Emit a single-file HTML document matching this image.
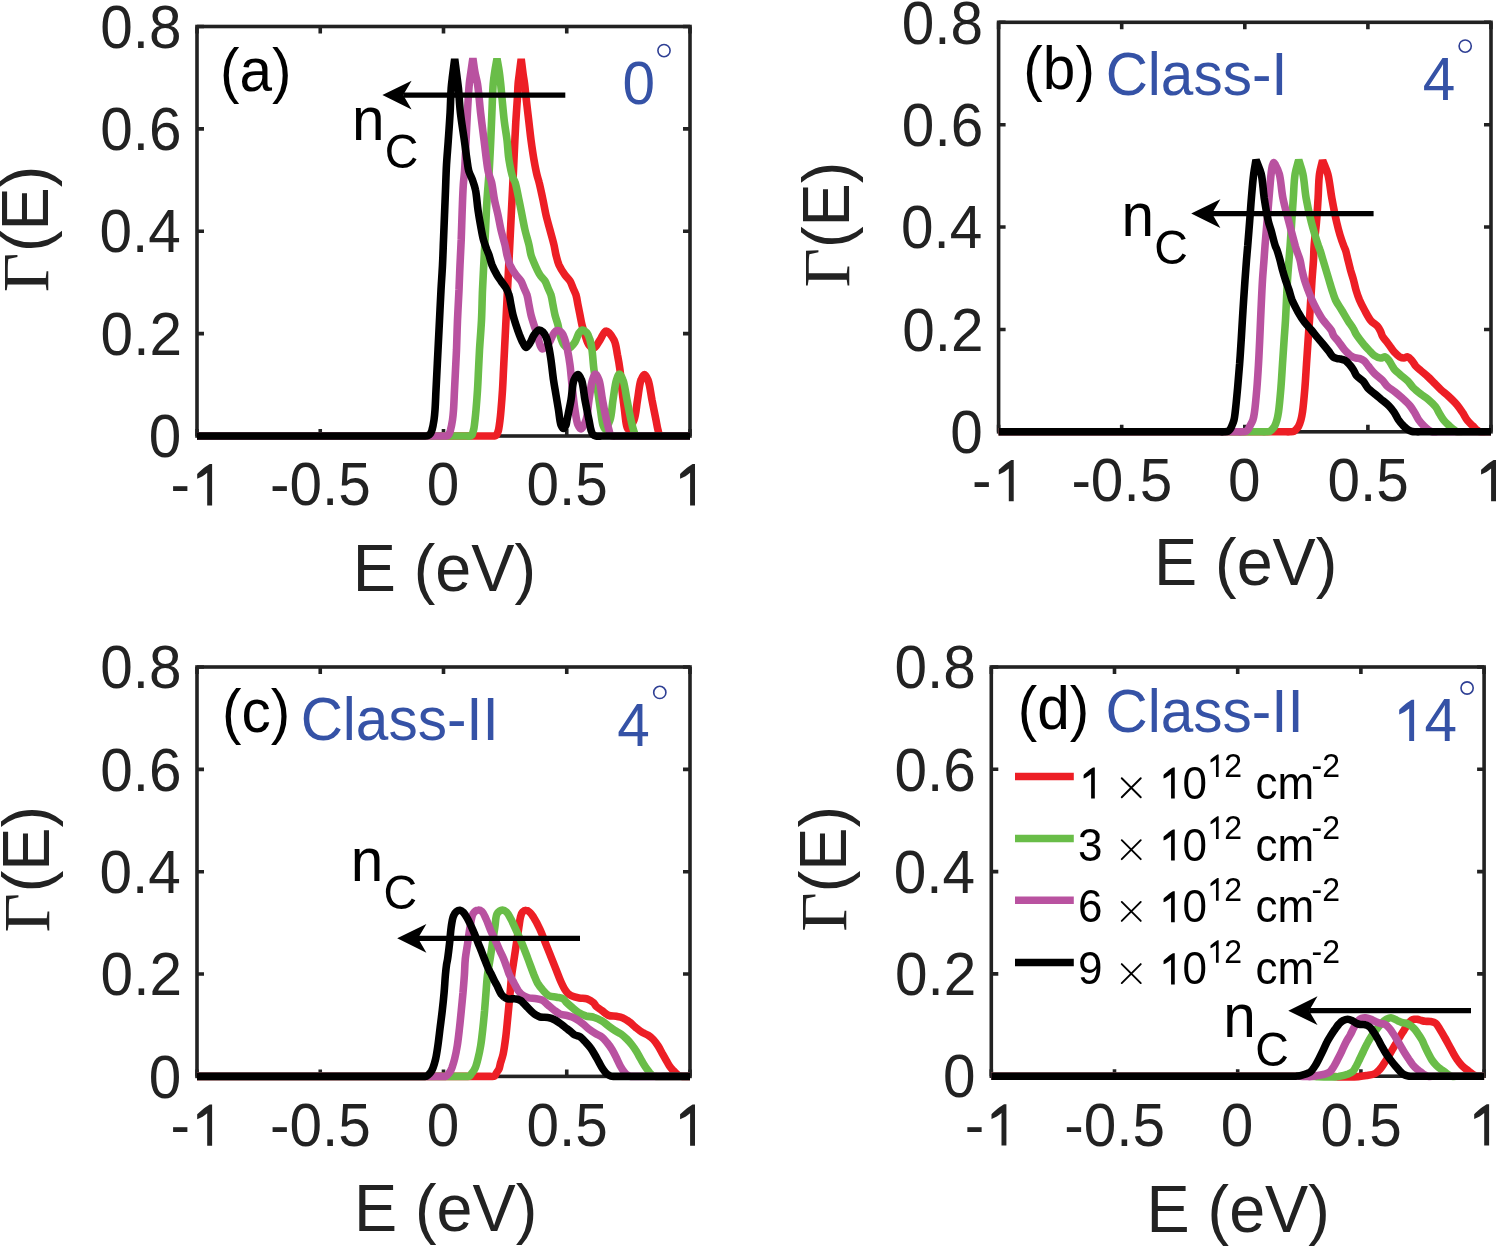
<!DOCTYPE html><html><head><meta charset="utf-8"><style>html,body{margin:0;padding:0;background:#fff;width:1500px;height:1248px;overflow:hidden}svg{display:block;will-change:transform}text{font-kerning:none}</style></head><body>
<svg width="1500" height="1248" viewBox="0 0 1500 1248">
<rect width="1500" height="1248" fill="#fff"/>
<path d="M197.00,436.00V429.00M197.00,26.50V33.50M320.25,436.00V429.00M320.25,26.50V33.50M443.50,436.00V429.00M443.50,26.50V33.50M566.75,436.00V429.00M566.75,26.50V33.50M690.00,436.00V429.00M690.00,26.50V33.50M197.00,436.00H204.00M690.00,436.00H683.00M197.00,333.62H204.00M690.00,333.62H683.00M197.00,231.25H204.00M690.00,231.25H683.00M197.00,128.88H204.00M690.00,128.88H683.00M197.00,26.50H204.00M690.00,26.50H683.00" stroke="#222222" stroke-width="3.6" fill="none"/>
<rect x="197.0" y="26.5" width="493.00" height="409.50" stroke="#222222" stroke-width="3.6" fill="none"/>
<text transform="translate(148.75,457.20) scale(1.0,1.03)" font-family='"Liberation Sans", sans-serif' font-size="58.5" fill="#222222" >0</text>
<text transform="translate(100.62,354.82) scale(1.0,1.03)" font-family='"Liberation Sans", sans-serif' font-size="58.5" fill="#222222" >0.2</text>
<text transform="translate(99.39,252.45) scale(1.0,1.03)" font-family='"Liberation Sans", sans-serif' font-size="58.5" fill="#222222" >0.4</text>
<text transform="translate(100.25,150.08) scale(1.0,1.03)" font-family='"Liberation Sans", sans-serif' font-size="58.5" fill="#222222" >0.6</text>
<text transform="translate(100.22,47.70) scale(1.0,1.03)" font-family='"Liberation Sans", sans-serif' font-size="58.5" fill="#222222" >0.8</text>
<text transform="translate(170.39,505.40) scale(1.0,1.03)" font-family='"Liberation Sans", sans-serif' font-size="58.5" fill="#222222" >-</text>
<path transform="translate(189.88,505.40) scale(0.05850,-0.06026)" d="M296 0L380 0L380 685L340 685C290 660 190 582 125 522L125 442C190 466 250 500 296 542Z" fill="#222222"/>
<text transform="translate(269.93,505.40) scale(1.0,1.03)" font-family='"Liberation Sans", sans-serif' font-size="58.5" fill="#222222" >-0.5</text>
<text transform="translate(426.63,505.40) scale(1.0,1.03)" font-family='"Liberation Sans", sans-serif' font-size="58.5" fill="#222222" >0</text>
<text transform="translate(526.42,505.40) scale(1.0,1.03)" font-family='"Liberation Sans", sans-serif' font-size="58.5" fill="#222222" >0.5</text>
<path transform="translate(672.78,505.40) scale(0.05850,-0.06026)" d="M296 0L380 0L380 685L340 685C290 660 190 582 125 522L125 442C190 466 250 500 296 542Z" fill="#222222"/>
<text transform="translate(352.67,591.30) scale(1.0,1.04)" font-family='"Liberation Sans", sans-serif' font-size="64.7" fill="#222222" >E (eV)</text>
<text transform="translate(48.40,292.27) rotate(-90) scale(1,0.972)" font-family='"Liberation Serif", serif' font-size="68.5" fill="#222222">Γ</text>
<text transform="translate(48.40,252.01) rotate(-90) scale(1,1.04)" font-family='"Liberation Sans", sans-serif' font-size="64.7" fill="#222222">(E)</text>
<path d="M197.00,436.00 C198.67,436.00 199.06,436.00 202.00,436.00 C224.00,436.00 458.16,436.00 482.00,436.00 C485.49,436.00 486.00,436.00 488.00,436.00 C490.00,436.00 492.54,436.18 494.00,436.00 C494.85,435.89 495.45,435.91 496.00,435.50 C496.66,435.01 497.09,433.90 497.50,433.00 C497.93,432.07 498.19,431.31 498.50,430.00 C499.06,427.66 499.58,423.34 500.00,420.00 C500.42,416.67 500.66,413.91 501.00,410.00 C501.48,404.48 502.08,396.67 502.50,390.00 C502.92,383.34 503.17,376.67 503.50,370.00 C503.83,363.33 504.13,357.34 504.50,350.00 C504.95,341.01 505.50,330.00 506.00,320.00 C506.50,310.00 507.00,300.00 507.50,290.00 C508.00,280.00 508.50,270.00 509.00,260.00 C509.50,250.00 510.00,240.00 510.50,230.00 C511.00,220.00 511.50,210.00 512.00,200.00 C512.50,190.00 513.05,179.44 513.50,170.00 C513.90,161.55 514.22,154.00 514.60,146.00 C514.98,138.00 515.33,130.00 515.80,122.00 C516.27,114.00 517.00,104.93 517.40,98.00 C517.71,92.71 517.74,88.27 518.10,84.00 C518.41,80.38 518.85,77.67 519.30,74.00 C519.86,69.48 520.57,63.93 521.20,58.90 C521.83,63.93 522.48,69.49 523.10,74.00 C523.61,77.68 524.13,80.38 524.60,84.00 C525.15,88.27 525.51,92.71 526.10,98.00 C526.88,104.93 528.03,114.57 528.90,122.00 C529.65,128.43 530.18,133.85 531.00,140.00 C531.87,146.50 532.92,153.82 534.00,160.00 C534.94,165.37 536.02,170.96 537.00,175.00 C537.68,177.79 538.27,179.11 539.00,182.00 C540.17,186.60 541.79,194.27 543.00,200.00 C544.10,205.22 544.84,210.02 546.00,215.00 C547.17,220.02 548.67,225.00 550.00,230.00 C551.33,235.00 552.95,240.49 554.00,245.00 C554.85,248.66 555.17,251.69 556.00,255.00 C556.84,258.35 557.57,261.75 559.00,265.00 C560.52,268.43 562.98,272.16 565.00,275.00 C566.65,277.33 568.66,278.82 570.00,281.00 C571.32,283.16 572.00,285.67 573.00,288.00 C574.00,290.33 575.20,292.41 576.00,295.00 C576.93,297.99 577.33,301.67 578.00,305.00 C578.67,308.33 579.33,311.67 580.00,315.00 C580.67,318.33 581.17,321.69 582.00,325.00 C582.84,328.35 583.84,331.69 585.00,335.00 C586.17,338.36 587.13,342.80 589.00,345.00 C590.38,346.62 592.39,348.31 594.00,348.00 C596.10,347.59 598.04,342.77 600.00,340.00 C602.04,337.12 603.74,331.16 606.00,331.00 C608.38,330.83 612.10,336.33 614.00,340.00 C616.15,344.15 616.50,349.98 617.50,355.00 C618.50,359.98 619.28,364.63 620.00,370.00 C620.82,376.18 621.25,383.34 622.00,390.00 C622.75,396.67 623.70,403.81 624.50,410.00 C625.19,415.36 625.65,421.63 626.50,425.00 C626.95,426.79 627.21,428.91 628.00,429.00 C629.26,429.15 632.48,423.79 634.00,420.00 C636.08,414.81 636.33,406.67 637.50,400.00 C638.67,393.33 639.26,384.48 641.00,380.00 C641.98,377.46 643.33,374.50 644.50,374.50 C645.67,374.50 646.98,377.47 648.00,380.00 C649.80,384.48 650.67,393.33 652.00,400.00 C653.33,406.67 654.90,414.48 656.00,420.00 C656.78,423.91 657.21,427.19 658.00,430.00 C658.60,432.13 658.69,434.50 660.00,435.50 C661.33,436.52 664.00,435.92 666.00,436.00 C668.00,436.08 669.62,436.00 672.00,436.00 C675.51,436.00 681.68,436.00 685.00,436.00 C687.06,436.00 688.33,436.00 690.00,436.00" stroke="#ED1E25" stroke-width="7.6" fill="none" stroke-linejoin="bevel" stroke-linecap="butt"/>
<path d="M197.00,436.00 C198.67,436.00 199.08,436.00 202.00,436.00 C222.93,436.00 435.34,436.00 458.00,436.00 C461.47,436.00 462.00,436.00 464.00,436.00 C466.00,436.00 468.56,436.34 470.00,436.00 C470.88,435.79 471.51,435.57 472.00,435.00 C472.58,434.33 472.69,433.08 473.00,432.00 C473.36,430.77 473.71,429.57 474.00,428.00 C474.41,425.80 474.68,422.82 475.00,420.00 C475.35,416.85 475.66,413.91 476.00,410.00 C476.48,404.48 477.08,396.67 477.50,390.00 C477.92,383.34 478.17,376.67 478.50,370.00 C478.83,363.33 479.07,357.34 479.50,350.00 C480.02,341.01 481.00,330.00 481.50,320.00 C482.00,310.00 482.08,300.00 482.50,290.00 C482.92,280.00 483.50,270.00 484.00,260.00 C484.50,250.00 485.00,240.00 485.50,230.00 C486.00,220.00 486.38,209.96 487.00,200.00 C487.62,190.10 488.58,180.21 489.20,170.40 C489.81,160.71 490.25,151.13 490.70,141.50 C491.15,131.89 491.48,122.31 491.90,112.70 C492.32,103.07 492.56,91.30 493.20,83.80 C493.61,78.99 494.09,76.04 494.70,72.00 C495.35,67.69 496.23,63.13 497.00,58.70 C497.77,63.13 498.67,67.67 499.30,72.00 C499.89,76.09 500.26,79.84 500.70,84.00 C501.17,88.48 501.49,92.71 502.00,98.00 C502.67,104.93 503.49,114.58 504.40,122.00 C505.19,128.44 506.25,133.83 507.00,140.00 C507.79,146.48 507.96,153.54 509.00,160.00 C509.99,166.19 511.65,174.21 513.00,178.00 C513.66,179.87 514.34,180.13 515.00,182.00 C516.35,185.79 517.79,194.27 519.00,200.00 C520.10,205.22 521.00,210.00 522.00,215.00 C523.00,220.00 523.84,225.02 525.00,230.00 C526.17,235.02 527.95,240.49 529.00,245.00 C529.85,248.66 530.02,251.71 531.00,255.00 C532.00,258.38 533.52,261.70 535.00,265.00 C536.51,268.37 538.15,272.18 540.00,275.00 C541.54,277.36 543.66,278.82 545.00,281.00 C546.32,283.16 547.00,285.67 548.00,288.00 C549.00,290.33 550.20,292.41 551.00,295.00 C551.93,297.99 552.33,301.67 553.00,305.00 C553.67,308.33 554.17,311.69 555.00,315.00 C555.84,318.35 557.16,321.65 558.00,325.00 C558.83,328.31 559.02,331.71 560.00,335.00 C561.00,338.38 562.13,342.80 564.00,345.00 C565.38,346.62 567.34,348.20 569.00,348.00 C571.01,347.75 573.37,344.38 575.00,342.00 C576.76,339.44 577.55,335.11 579.00,333.00 C579.95,331.62 580.81,330.15 582.00,330.00 C583.40,329.83 585.70,331.51 587.00,333.00 C588.48,334.70 589.20,337.41 590.00,340.00 C590.93,342.99 591.41,346.08 592.00,350.00 C592.82,355.51 593.09,363.35 594.00,370.00 C594.92,376.68 596.42,383.33 597.50,390.00 C598.58,396.66 599.52,403.82 600.50,410.00 C601.35,415.36 601.91,421.65 603.00,425.00 C603.59,426.82 604.16,428.98 605.00,429.00 C606.27,429.03 608.73,423.73 610.00,420.00 C611.78,414.77 611.92,406.66 613.00,400.00 C614.08,393.33 614.97,384.64 616.50,380.00 C617.38,377.33 618.43,374.03 619.50,374.00 C620.59,373.96 621.98,377.30 623.00,380.00 C624.75,384.62 625.67,393.33 627.00,400.00 C628.33,406.67 629.76,414.49 631.00,420.00 C631.88,423.92 632.52,427.20 633.50,430.00 C634.25,432.14 634.58,434.50 636.00,435.50 C637.42,436.50 640.00,435.92 642.00,436.00 C644.00,436.08 645.15,436.00 648.00,436.00 C655.08,436.00 678.37,436.00 685.00,436.00 C687.44,436.00 688.33,436.00 690.00,436.00" stroke="#69BD48" stroke-width="7.6" fill="none" stroke-linejoin="bevel" stroke-linecap="butt"/>
<path d="M197.00,436.00 C198.67,436.00 199.09,436.00 202.00,436.00 C221.80,436.00 412.57,436.00 434.00,436.00 C437.45,436.00 438.00,436.00 440.00,436.00 C442.00,436.00 444.54,436.18 446.00,436.00 C446.85,435.89 447.45,435.91 448.00,435.50 C448.66,435.01 449.09,433.90 449.50,433.00 C449.93,432.07 450.15,431.31 450.50,430.00 C451.12,427.65 452.00,423.35 452.50,420.00 C453.00,416.68 453.21,413.91 453.50,410.00 C453.91,404.48 454.17,396.67 454.50,390.00 C454.83,383.33 455.17,376.67 455.50,370.00 C455.83,363.33 456.19,357.34 456.50,350.00 C456.87,341.01 457.08,330.00 457.50,320.00 C457.92,310.00 458.57,299.55 459.00,290.00 C459.39,281.29 459.63,273.33 460.00,265.00 C460.37,256.67 460.85,248.71 461.20,240.00 C461.59,230.46 461.83,219.54 462.20,210.00 C462.54,201.29 462.82,192.21 463.30,185.00 C463.67,179.48 464.21,176.09 464.60,170.40 C465.15,162.40 465.53,151.12 466.00,141.50 C466.47,131.89 466.85,122.31 467.40,112.70 C467.95,103.07 468.55,91.30 469.30,83.80 C469.78,78.99 470.33,76.09 470.90,72.00 C471.52,67.58 472.23,62.80 472.90,58.20 C473.57,62.80 474.10,67.59 474.90,72.00 C475.65,76.10 476.71,78.97 477.50,83.80 C478.72,91.29 479.48,103.08 480.60,112.70 C481.72,122.31 482.97,131.89 484.20,141.50 C485.43,151.13 486.83,164.53 488.00,170.40 C488.52,173.02 488.93,174.11 489.50,176.00 C490.09,177.97 490.86,179.43 491.50,182.00 C492.58,186.36 493.36,194.29 494.50,200.00 C495.55,205.25 496.92,209.99 498.00,215.00 C499.08,219.99 499.84,225.02 501.00,230.00 C502.17,235.02 503.95,240.49 505.00,245.00 C505.85,248.66 506.17,251.69 507.00,255.00 C507.84,258.35 508.57,261.75 510.00,265.00 C511.52,268.43 513.98,272.16 516.00,275.00 C517.65,277.33 519.66,278.82 521.00,281.00 C522.32,283.16 523.00,285.67 524.00,288.00 C525.00,290.33 526.20,292.41 527.00,295.00 C527.93,297.99 528.33,301.67 529.00,305.00 C529.67,308.33 530.17,311.69 531.00,315.00 C531.84,318.35 532.92,321.68 534.00,325.00 C535.09,328.35 536.50,331.64 537.50,335.00 C538.49,338.31 538.93,342.48 540.00,345.00 C540.72,346.71 541.35,348.85 542.50,349.00 C544.07,349.21 547.16,345.45 549.00,343.00 C551.07,340.24 552.32,335.12 554.00,333.00 C554.99,331.74 555.82,330.64 557.00,330.50 C558.41,330.34 560.71,331.63 562.00,333.00 C563.51,334.60 564.13,337.42 565.00,340.00 C566.01,343.00 566.73,346.31 567.50,350.00 C568.43,354.48 569.28,359.63 570.00,365.00 C570.82,371.18 571.23,377.97 572.00,385.00 C572.87,392.87 573.84,402.74 575.00,410.00 C575.90,415.65 576.52,421.70 578.00,425.00 C578.84,426.89 579.93,429.07 581.00,429.00 C582.53,428.90 584.73,423.73 586.00,420.00 C587.78,414.77 587.92,406.66 589.00,400.00 C590.08,393.33 590.97,384.64 592.50,380.00 C593.38,377.33 594.43,374.03 595.50,374.00 C596.59,373.96 598.01,377.30 599.00,380.00 C600.69,384.62 601.25,393.34 602.50,400.00 C603.75,406.67 605.26,414.49 606.50,420.00 C607.38,423.92 608.14,427.18 609.00,430.00 C609.65,432.12 609.69,434.50 611.00,435.50 C612.33,436.52 615.00,435.92 617.00,436.00 C619.00,436.08 619.95,436.00 623.00,436.00 C632.81,436.00 675.86,436.00 685.00,436.00 C687.60,436.00 688.33,436.00 690.00,436.00" stroke="#B952A0" stroke-width="7.6" fill="none" stroke-linejoin="bevel" stroke-linecap="butt"/>
<path d="M197.00,436.00 C198.67,436.00 199.11,436.00 202.00,436.00 C220.71,436.00 391.76,436.00 412.00,436.00 C415.42,436.00 416.00,436.00 418.00,436.00 C420.00,436.00 422.20,436.09 424.00,436.00 C425.47,435.93 426.88,436.07 428.00,435.60 C429.01,435.17 429.84,434.38 430.50,433.50 C431.21,432.55 431.54,431.50 432.00,430.00 C432.76,427.55 433.50,423.35 434.00,420.00 C434.50,416.68 434.71,413.91 435.00,410.00 C435.41,404.48 435.67,396.67 436.00,390.00 C436.33,383.33 436.67,376.67 437.00,370.00 C437.33,363.33 437.63,357.34 438.00,350.00 C438.45,341.01 439.00,330.00 439.50,320.00 C440.00,310.00 440.48,299.54 441.00,290.00 C441.48,281.29 442.08,273.34 442.50,265.00 C442.92,256.67 443.17,248.33 443.50,240.00 C443.83,231.67 444.17,223.33 444.50,215.00 C444.83,206.67 445.17,198.33 445.50,190.00 C445.83,181.67 446.04,173.20 446.50,165.00 C446.95,157.04 447.63,149.73 448.20,141.50 C448.83,132.39 449.59,121.93 450.10,112.70 C450.57,104.15 450.68,94.76 451.20,88.00 C451.56,83.28 451.98,80.35 452.50,76.00 C453.12,70.80 453.97,64.60 454.70,58.90 C455.43,64.60 456.24,70.80 456.90,76.00 C457.45,80.35 457.91,83.28 458.40,88.00 C459.10,94.76 459.45,104.17 460.40,112.70 C461.43,121.95 463.31,132.96 464.50,141.50 C465.45,148.34 466.20,154.64 467.00,160.00 C467.62,164.15 467.83,167.57 468.80,171.00 C469.71,174.21 471.40,176.89 472.50,180.00 C473.64,183.22 474.67,186.05 475.50,190.00 C476.66,195.48 477.10,203.82 478.00,210.00 C478.78,215.37 479.58,220.01 480.50,225.00 C481.42,230.01 482.28,235.54 483.50,240.00 C484.51,243.71 485.97,247.25 487.00,250.00 C487.74,251.96 488.31,253.03 489.00,255.00 C489.96,257.74 490.70,261.72 492.00,265.00 C493.35,268.39 495.34,272.13 497.00,275.00 C498.34,277.30 499.57,278.93 501.00,281.00 C502.56,283.26 504.64,285.59 506.00,288.00 C507.28,290.27 508.20,292.41 509.00,295.00 C509.93,297.99 510.33,301.67 511.00,305.00 C511.67,308.33 512.17,311.69 513.00,315.00 C513.84,318.35 514.92,321.68 516.00,325.00 C517.09,328.35 518.27,331.87 519.50,335.00 C520.62,337.84 521.78,340.76 523.00,343.00 C523.96,344.76 524.87,347.42 526.00,347.50 C527.19,347.58 528.77,344.81 530.00,343.00 C531.49,340.79 532.38,337.25 534.00,335.00 C535.44,333.00 537.33,330.27 539.00,330.00 C540.33,329.78 541.84,330.92 543.00,332.00 C544.44,333.35 545.55,335.67 546.50,338.00 C547.66,340.84 548.27,344.50 549.00,348.00 C549.79,351.80 550.34,355.48 551.00,360.00 C551.85,365.81 552.60,373.82 553.50,380.00 C554.28,385.37 555.17,390.00 556.00,395.00 C556.83,400.00 557.67,405.00 558.50,410.00 C559.33,415.00 559.69,421.83 561.00,425.00 C561.70,426.68 562.67,428.50 563.50,428.50 C564.33,428.50 565.42,426.34 566.00,425.00 C566.63,423.54 566.56,422.22 567.00,420.00 C567.89,415.56 569.83,406.68 571.00,400.00 C572.16,393.35 572.18,384.45 574.00,380.00 C575.06,377.42 576.74,374.46 578.00,374.50 C579.24,374.54 580.52,377.46 581.50,380.00 C583.24,384.48 583.75,393.34 585.00,400.00 C586.25,406.67 587.90,414.48 589.00,420.00 C589.78,423.91 590.16,427.36 591.00,430.00 C591.58,431.83 592.03,433.49 593.00,434.50 C593.80,435.33 594.79,435.71 596.00,436.00 C597.62,436.38 600.00,436.00 602.00,436.00 C604.00,436.00 604.87,436.00 608.00,436.00 C619.20,436.00 674.58,436.00 685.00,436.00 C687.66,436.00 688.33,436.00 690.00,436.00" stroke="#000000" stroke-width="7.6" fill="none" stroke-linejoin="bevel" stroke-linecap="butt"/>
<path d="M998.60,431.80V424.80M998.60,22.30V29.30M1121.70,431.80V424.80M1121.70,22.30V29.30M1244.80,431.80V424.80M1244.80,22.30V29.30M1367.90,431.80V424.80M1367.90,22.30V29.30M1491.00,431.80V424.80M1491.00,22.30V29.30M998.60,431.80H1005.60M1491.00,431.80H1484.00M998.60,329.43H1005.60M1491.00,329.43H1484.00M998.60,227.05H1005.60M1491.00,227.05H1484.00M998.60,124.68H1005.60M1491.00,124.68H1484.00M998.60,22.30H1005.60M1491.00,22.30H1484.00" stroke="#222222" stroke-width="3.6" fill="none"/>
<rect x="998.6" y="22.3" width="492.40" height="409.50" stroke="#222222" stroke-width="3.6" fill="none"/>
<text transform="translate(950.35,453.00) scale(1.0,1.03)" font-family='"Liberation Sans", sans-serif' font-size="58.5" fill="#222222" >0</text>
<text transform="translate(902.22,350.62) scale(1.0,1.03)" font-family='"Liberation Sans", sans-serif' font-size="58.5" fill="#222222" >0.2</text>
<text transform="translate(900.99,248.25) scale(1.0,1.03)" font-family='"Liberation Sans", sans-serif' font-size="58.5" fill="#222222" >0.4</text>
<text transform="translate(901.85,145.88) scale(1.0,1.03)" font-family='"Liberation Sans", sans-serif' font-size="58.5" fill="#222222" >0.6</text>
<text transform="translate(901.82,43.50) scale(1.0,1.03)" font-family='"Liberation Sans", sans-serif' font-size="58.5" fill="#222222" >0.8</text>
<text transform="translate(971.99,501.20) scale(1.0,1.03)" font-family='"Liberation Sans", sans-serif' font-size="58.5" fill="#222222" >-</text>
<path transform="translate(991.48,501.20) scale(0.05850,-0.06026)" d="M296 0L380 0L380 685L340 685C290 660 190 582 125 522L125 442C190 466 250 500 296 542Z" fill="#222222"/>
<text transform="translate(1071.38,501.20) scale(1.0,1.03)" font-family='"Liberation Sans", sans-serif' font-size="58.5" fill="#222222" >-0.5</text>
<text transform="translate(1227.93,501.20) scale(1.0,1.03)" font-family='"Liberation Sans", sans-serif' font-size="58.5" fill="#222222" >0</text>
<text transform="translate(1327.57,501.20) scale(1.0,1.03)" font-family='"Liberation Sans", sans-serif' font-size="58.5" fill="#222222" >0.5</text>
<path transform="translate(1473.78,501.20) scale(0.05850,-0.06026)" d="M296 0L380 0L380 685L340 685C290 660 190 582 125 522L125 442C190 466 250 500 296 542Z" fill="#222222"/>
<text transform="translate(1153.97,584.70) scale(1.0,1.04)" font-family='"Liberation Sans", sans-serif' font-size="64.7" fill="#222222" >E (eV)</text>
<text transform="translate(849.30,287.57) rotate(-90) scale(1,0.972)" font-family='"Liberation Serif", serif' font-size="68.5" fill="#222222">Γ</text>
<text transform="translate(849.30,248.01) rotate(-90) scale(1,1.04)" font-family='"Liberation Sans", sans-serif' font-size="64.7" fill="#222222">(E)</text>
<path d="M998.60,431.80 C1000.27,431.80 1000.66,431.80 1003.60,431.80 C1025.36,431.80 1254.43,431.80 1278.00,431.80 C1281.48,431.80 1282.00,431.80 1284.00,431.80 C1286.00,431.80 1288.21,431.91 1290.00,431.80 C1291.47,431.71 1292.95,431.78 1294.00,431.30 C1294.86,430.91 1295.32,430.20 1296.00,429.50 C1296.82,428.65 1297.77,427.77 1298.50,426.50 C1299.48,424.81 1300.25,422.31 1300.90,420.00 C1301.61,417.50 1301.99,415.40 1302.50,412.00 C1303.37,406.16 1304.23,396.01 1304.90,388.00 C1305.57,380.01 1305.97,372.00 1306.50,364.00 C1307.03,356.00 1307.58,347.64 1308.10,340.00 C1308.58,333.03 1308.98,327.81 1309.50,320.00 C1310.23,308.96 1311.24,291.04 1312.00,280.00 C1312.54,272.19 1313.14,266.08 1313.50,260.00 C1313.80,254.92 1313.72,251.29 1314.10,246.00 C1314.59,239.07 1315.83,230.01 1316.50,222.00 C1317.17,214.01 1317.60,206.00 1318.10,198.00 C1318.60,190.00 1318.53,180.85 1319.50,174.00 C1320.24,168.76 1321.57,164.87 1322.60,160.30 C1324.33,164.87 1326.37,168.72 1327.80,174.00 C1329.64,180.81 1330.34,190.01 1331.80,198.00 C1333.27,206.01 1335.04,215.24 1336.60,222.00 C1337.76,227.01 1338.75,230.87 1340.00,235.00 C1341.16,238.84 1342.74,243.25 1343.80,246.00 C1344.45,247.68 1344.94,248.34 1345.50,250.00 C1346.36,252.56 1347.17,256.67 1348.00,260.00 C1348.83,263.33 1349.59,266.68 1350.50,270.00 C1351.42,273.34 1352.58,276.66 1353.50,280.00 C1354.41,283.32 1355.01,286.69 1356.00,290.00 C1357.00,293.36 1358.11,296.71 1359.50,300.00 C1360.93,303.38 1362.66,306.65 1364.50,310.00 C1366.44,313.54 1368.50,317.91 1370.90,320.70 C1372.86,322.98 1375.65,324.08 1377.30,326.00 C1378.73,327.65 1379.59,329.49 1380.50,331.30 C1381.38,333.06 1381.69,334.98 1382.70,336.70 C1383.78,338.56 1385.56,340.22 1386.90,342.00 C1388.22,343.75 1389.38,345.54 1390.70,347.30 C1392.05,349.10 1393.37,351.08 1394.90,352.70 C1396.38,354.27 1398.04,356.02 1399.70,356.90 C1401.09,357.63 1402.62,358.03 1404.00,358.00 C1405.28,357.98 1406.49,356.63 1407.70,356.90 C1409.17,357.23 1410.70,359.24 1412.00,360.70 C1413.38,362.25 1414.27,364.38 1415.70,366.00 C1417.16,367.65 1418.86,368.88 1420.70,370.50 C1422.92,372.46 1425.76,374.72 1428.10,376.90 C1430.35,378.99 1432.37,381.17 1434.50,383.30 C1436.63,385.43 1438.64,387.61 1440.90,389.70 C1443.26,391.88 1445.87,393.75 1448.40,396.10 C1451.20,398.70 1454.48,401.85 1456.90,404.70 C1459.01,407.18 1460.56,409.50 1462.30,412.10 C1464.13,414.83 1465.68,418.27 1467.60,420.70 C1469.25,422.79 1471.30,424.40 1472.90,426.00 C1474.22,427.32 1475.25,428.60 1476.50,429.60 C1477.63,430.50 1478.61,431.40 1480.00,431.80 C1481.68,432.28 1484.09,431.80 1486.00,431.80 C1487.74,431.80 1489.33,431.80 1491.00,431.80" stroke="#ED1E25" stroke-width="7.6" fill="none" stroke-linejoin="bevel" stroke-linecap="butt"/>
<path d="M998.60,431.80 C1000.27,431.80 1000.68,431.80 1003.60,431.80 C1024.27,431.80 1231.62,431.80 1254.00,431.80 C1257.46,431.80 1258.00,431.80 1260.00,431.80 C1262.00,431.80 1264.21,431.91 1266.00,431.80 C1267.47,431.71 1268.95,431.78 1270.00,431.30 C1270.86,430.91 1271.32,430.20 1272.00,429.50 C1272.82,428.65 1273.77,427.77 1274.50,426.50 C1275.48,424.81 1276.25,422.31 1276.90,420.00 C1277.61,417.50 1277.99,415.40 1278.50,412.00 C1279.37,406.16 1280.23,396.01 1280.90,388.00 C1281.57,380.01 1281.97,372.00 1282.50,364.00 C1283.03,356.00 1283.58,347.64 1284.10,340.00 C1284.58,333.03 1285.03,327.81 1285.50,320.00 C1286.16,308.96 1286.81,291.04 1287.50,280.00 C1287.99,272.19 1288.53,266.07 1289.00,260.00 C1289.39,254.92 1289.72,251.29 1290.10,246.00 C1290.60,239.07 1291.17,230.00 1291.70,222.00 C1292.23,214.00 1292.73,206.00 1293.30,198.00 C1293.87,190.00 1293.97,180.90 1295.10,174.00 C1295.98,168.63 1297.50,164.60 1298.70,159.90 C1300.10,164.60 1301.75,168.63 1302.90,174.00 C1304.38,180.89 1304.71,190.03 1306.10,198.00 C1307.50,206.03 1309.61,215.24 1311.30,222.00 C1312.56,227.02 1313.75,230.86 1315.00,235.00 C1316.15,238.83 1317.55,243.25 1318.50,246.00 C1319.08,247.67 1319.45,248.35 1320.00,250.00 C1320.87,252.57 1322.00,256.67 1323.00,260.00 C1324.00,263.33 1325.00,266.67 1326.00,270.00 C1327.00,273.33 1328.00,276.67 1329.00,280.00 C1330.00,283.33 1330.92,286.68 1332.00,290.00 C1333.09,293.35 1333.96,296.75 1335.50,300.00 C1337.12,303.42 1339.55,306.61 1341.60,310.00 C1343.72,313.50 1345.93,317.41 1348.00,320.70 C1349.82,323.58 1351.88,326.27 1353.30,328.70 C1354.42,330.61 1354.96,332.27 1356.00,334.00 C1357.08,335.80 1358.39,337.55 1359.70,339.30 C1361.05,341.11 1362.50,342.93 1364.00,344.70 C1365.53,346.50 1367.14,348.25 1368.80,350.00 C1370.50,351.79 1372.10,353.96 1374.10,355.30 C1376.02,356.59 1378.49,357.83 1380.50,358.00 C1382.19,358.15 1383.89,356.49 1385.30,356.90 C1386.77,357.32 1387.96,359.25 1389.10,360.70 C1390.32,362.26 1391.33,364.42 1392.30,366.00 C1393.10,367.29 1393.48,368.29 1394.50,369.50 C1395.91,371.18 1398.30,372.96 1400.40,374.80 C1402.74,376.85 1405.70,378.97 1407.90,381.20 C1409.92,383.25 1411.18,385.55 1413.20,387.60 C1415.40,389.83 1418.17,392.02 1420.70,394.00 C1423.14,395.91 1425.71,397.27 1428.10,399.30 C1430.68,401.49 1433.58,404.16 1435.60,406.80 C1437.42,409.18 1438.44,411.92 1439.90,414.30 C1441.28,416.54 1442.49,418.75 1444.10,420.70 C1445.70,422.64 1447.79,424.43 1449.50,426.00 C1450.96,427.34 1452.35,428.58 1453.70,429.60 C1454.84,430.46 1455.66,431.40 1457.00,431.80 C1458.64,432.30 1461.00,431.80 1463.00,431.80 C1465.00,431.80 1466.49,431.80 1469.00,431.80 C1473.22,431.80 1482.01,431.80 1486.00,431.80 C1488.16,431.80 1489.33,431.80 1491.00,431.80" stroke="#69BD48" stroke-width="7.6" fill="none" stroke-linejoin="bevel" stroke-linecap="butt"/>
<path d="M998.60,431.80 C1000.27,431.80 1000.70,431.80 1003.60,431.80 C1023.13,431.80 1208.87,431.80 1230.00,431.80 C1233.44,431.80 1234.00,431.80 1236.00,431.80 C1238.00,431.80 1240.21,431.91 1242.00,431.80 C1243.47,431.71 1244.95,431.78 1246.00,431.30 C1246.86,430.91 1247.42,430.24 1248.00,429.50 C1248.65,428.67 1248.98,427.69 1249.60,426.50 C1250.51,424.75 1252.09,422.34 1252.90,420.00 C1253.76,417.53 1253.99,415.40 1254.50,412.00 C1255.37,406.16 1256.23,396.01 1256.90,388.00 C1257.57,380.01 1258.03,372.00 1258.50,364.00 C1258.97,356.00 1259.31,348.45 1259.70,340.00 C1260.14,330.56 1260.53,320.00 1261.00,310.00 C1261.47,300.00 1261.94,288.99 1262.50,280.00 C1262.96,272.66 1263.56,266.07 1264.00,260.00 C1264.37,254.92 1264.59,251.29 1265.00,246.00 C1265.54,239.07 1266.33,230.00 1267.00,222.00 C1267.67,214.00 1268.32,206.00 1269.00,198.00 C1269.68,190.00 1270.41,179.85 1271.10,174.00 C1271.50,170.61 1271.73,168.10 1272.30,166.00 C1272.69,164.57 1273.13,162.57 1273.70,162.50 C1274.22,162.44 1274.86,163.86 1275.50,165.00 C1276.64,167.03 1278.23,170.19 1279.30,174.00 C1280.99,180.00 1281.31,190.04 1282.90,198.00 C1284.50,206.04 1286.84,214.01 1288.90,222.00 C1290.97,230.01 1293.99,241.37 1295.30,246.00 C1295.84,247.90 1295.97,248.37 1296.50,250.00 C1297.34,252.59 1299.08,256.63 1300.00,260.00 C1300.90,263.30 1301.25,266.68 1302.00,270.00 C1302.75,273.34 1303.51,276.69 1304.50,280.00 C1305.50,283.36 1306.76,286.68 1308.00,290.00 C1309.25,293.35 1310.52,296.70 1312.00,300.00 C1313.51,303.37 1315.19,306.70 1317.00,310.00 C1318.85,313.37 1320.71,316.73 1323.00,320.00 C1325.44,323.47 1329.53,327.24 1331.30,330.20 C1332.47,332.16 1332.46,333.77 1333.50,335.50 C1334.69,337.48 1336.64,339.18 1338.30,341.30 C1340.22,343.75 1342.09,346.91 1344.30,349.40 C1346.49,351.87 1349.25,354.76 1351.50,356.20 C1353.07,357.21 1354.52,357.60 1356.00,358.00 C1357.35,358.37 1358.70,358.18 1360.00,358.60 C1361.37,359.05 1362.74,359.67 1364.00,360.70 C1365.55,361.97 1366.71,364.08 1368.30,366.00 C1370.23,368.34 1372.45,371.34 1374.80,373.70 C1377.12,376.03 1380.10,377.87 1382.30,380.10 C1384.32,382.15 1385.54,384.57 1387.60,386.50 C1389.77,388.53 1392.65,389.97 1395.10,391.90 C1397.62,393.89 1400.06,396.05 1402.50,398.30 C1405.03,400.64 1407.94,403.22 1410.00,405.70 C1411.76,407.82 1412.92,409.85 1414.30,412.10 C1415.76,414.47 1416.89,417.27 1418.50,419.60 C1420.09,421.90 1422.14,424.23 1423.90,426.00 C1425.33,427.44 1426.68,428.60 1428.10,429.60 C1429.38,430.50 1430.50,431.41 1432.00,431.80 C1433.73,432.26 1436.00,431.80 1438.00,431.80 C1440.00,431.80 1441.10,431.80 1444.00,431.80 C1451.68,431.80 1478.82,431.80 1486.00,431.80 C1488.48,431.80 1489.33,431.80 1491.00,431.80" stroke="#B952A0" stroke-width="7.6" fill="none" stroke-linejoin="bevel" stroke-linecap="butt"/>
<path d="M998.60,431.80 C1000.27,431.80 1000.71,431.80 1003.60,431.80 C1022.23,431.80 1191.85,431.80 1212.00,431.80 C1215.42,431.80 1216.00,431.80 1218.00,431.80 C1220.00,431.80 1222.21,431.91 1224.00,431.80 C1225.47,431.71 1226.95,431.78 1228.00,431.30 C1228.86,430.91 1229.42,430.24 1230.00,429.50 C1230.65,428.67 1231.06,427.71 1231.60,426.50 C1232.38,424.77 1233.41,422.31 1234.00,420.00 C1234.64,417.50 1234.78,415.39 1235.20,412.00 C1235.93,406.15 1236.87,396.00 1237.60,388.00 C1238.33,380.00 1239.00,372.00 1239.60,364.00 C1240.20,356.00 1240.67,348.45 1241.20,340.00 C1241.80,330.56 1242.37,320.00 1243.00,310.00 C1243.63,300.00 1244.36,288.99 1245.00,280.00 C1245.52,272.66 1246.01,266.07 1246.50,260.00 C1246.91,254.92 1247.26,251.29 1247.70,246.00 C1248.27,239.07 1248.98,230.00 1249.60,222.00 C1250.22,214.00 1250.72,206.00 1251.40,198.00 C1252.08,190.00 1252.80,180.93 1253.70,174.00 C1254.39,168.67 1255.23,164.60 1256.00,159.90 C1257.73,164.60 1259.88,168.59 1261.20,174.00 C1262.87,180.86 1262.99,190.02 1264.20,198.00 C1265.42,206.02 1267.07,216.18 1268.50,222.00 C1269.34,225.41 1270.09,226.87 1271.00,230.00 C1272.28,234.41 1274.08,242.47 1275.30,246.00 C1275.92,247.81 1276.40,248.35 1277.00,250.00 C1277.93,252.56 1279.08,256.66 1280.00,260.00 C1280.91,263.32 1281.59,266.68 1282.50,270.00 C1283.42,273.34 1284.42,276.68 1285.50,280.00 C1286.59,283.35 1287.91,286.65 1289.00,290.00 C1290.08,293.32 1290.70,296.72 1292.00,300.00 C1293.35,303.39 1295.90,307.81 1297.00,310.00 C1297.54,311.07 1297.60,311.36 1298.20,312.40 C1299.43,314.56 1302.14,319.00 1304.40,322.00 C1306.61,324.93 1309.41,327.58 1311.60,330.20 C1313.53,332.52 1315.07,334.68 1316.90,336.90 C1318.77,339.18 1320.78,341.39 1322.70,343.70 C1324.65,346.05 1326.67,348.58 1328.50,350.90 C1330.19,353.04 1331.62,355.86 1333.30,357.10 C1334.49,357.98 1335.77,358.18 1337.00,358.50 C1338.17,358.80 1339.25,358.72 1340.50,359.00 C1341.99,359.34 1343.80,359.59 1345.30,360.50 C1347.04,361.55 1348.69,363.65 1350.10,365.30 C1351.40,366.82 1352.43,368.31 1353.50,370.00 C1354.65,371.82 1355.23,374.11 1356.70,375.90 C1358.33,377.89 1361.19,379.14 1363.10,381.20 C1365.11,383.37 1366.39,386.53 1368.40,388.70 C1370.31,390.76 1372.67,392.23 1374.80,394.00 C1376.93,395.77 1378.99,397.44 1381.20,399.30 C1383.61,401.32 1386.50,403.47 1388.70,405.70 C1390.72,407.75 1392.41,409.81 1394.00,412.10 C1395.62,414.44 1396.68,417.26 1398.30,419.60 C1399.89,421.89 1401.84,424.20 1403.60,426.00 C1405.07,427.50 1406.49,428.86 1408.00,429.80 C1409.30,430.61 1410.64,431.17 1412.00,431.50 C1413.31,431.82 1414.53,431.74 1416.00,431.80 C1417.80,431.87 1420.00,431.80 1422.00,431.80 C1424.00,431.80 1424.97,431.80 1428.00,431.80 C1437.41,431.80 1477.22,431.80 1486.00,431.80 C1488.58,431.80 1489.33,431.80 1491.00,431.80" stroke="#000000" stroke-width="7.6" fill="none" stroke-linejoin="bevel" stroke-linecap="butt"/>
<path d="M197.00,1076.40V1069.40M197.00,667.00V674.00M320.25,1076.40V1069.40M320.25,667.00V674.00M443.50,1076.40V1069.40M443.50,667.00V674.00M566.75,1076.40V1069.40M566.75,667.00V674.00M690.00,1076.40V1069.40M690.00,667.00V674.00M197.00,1076.40H204.00M690.00,1076.40H683.00M197.00,974.05H204.00M690.00,974.05H683.00M197.00,871.70H204.00M690.00,871.70H683.00M197.00,769.35H204.00M690.00,769.35H683.00M197.00,667.00H204.00M690.00,667.00H683.00" stroke="#222222" stroke-width="3.6" fill="none"/>
<rect x="197.0" y="667.0" width="493.00" height="409.40" stroke="#222222" stroke-width="3.6" fill="none"/>
<text transform="translate(148.75,1097.60) scale(1.0,1.03)" font-family='"Liberation Sans", sans-serif' font-size="58.5" fill="#222222" >0</text>
<text transform="translate(100.62,995.25) scale(1.0,1.03)" font-family='"Liberation Sans", sans-serif' font-size="58.5" fill="#222222" >0.2</text>
<text transform="translate(99.39,892.90) scale(1.0,1.03)" font-family='"Liberation Sans", sans-serif' font-size="58.5" fill="#222222" >0.4</text>
<text transform="translate(100.25,790.55) scale(1.0,1.03)" font-family='"Liberation Sans", sans-serif' font-size="58.5" fill="#222222" >0.6</text>
<text transform="translate(100.22,688.20) scale(1.0,1.03)" font-family='"Liberation Sans", sans-serif' font-size="58.5" fill="#222222" >0.8</text>
<text transform="translate(170.39,1145.80) scale(1.0,1.03)" font-family='"Liberation Sans", sans-serif' font-size="58.5" fill="#222222" >-</text>
<path transform="translate(189.88,1145.80) scale(0.05850,-0.06026)" d="M296 0L380 0L380 685L340 685C290 660 190 582 125 522L125 442C190 466 250 500 296 542Z" fill="#222222"/>
<text transform="translate(269.93,1145.80) scale(1.0,1.03)" font-family='"Liberation Sans", sans-serif' font-size="58.5" fill="#222222" >-0.5</text>
<text transform="translate(426.63,1145.80) scale(1.0,1.03)" font-family='"Liberation Sans", sans-serif' font-size="58.5" fill="#222222" >0</text>
<text transform="translate(526.42,1145.80) scale(1.0,1.03)" font-family='"Liberation Sans", sans-serif' font-size="58.5" fill="#222222" >0.5</text>
<path transform="translate(672.78,1145.80) scale(0.05850,-0.06026)" d="M296 0L380 0L380 685L340 685C290 660 190 582 125 522L125 442C190 466 250 500 296 542Z" fill="#222222"/>
<text transform="translate(353.92,1231.20) scale(1.0,1.04)" font-family='"Liberation Sans", sans-serif' font-size="64.7" fill="#222222" >E (eV)</text>
<text transform="translate(49.00,932.47) rotate(-90) scale(1,0.972)" font-family='"Liberation Serif", serif' font-size="68.5" fill="#222222">Γ</text>
<text transform="translate(49.00,892.31) rotate(-90) scale(1,1.04)" font-family='"Liberation Sans", sans-serif' font-size="64.7" fill="#222222">(E)</text>
<path d="M197.00,1076.40 C198.67,1076.40 199.06,1076.40 202.00,1076.40 C223.83,1076.40 454.36,1076.40 478.00,1076.40 C481.49,1076.40 482.00,1076.40 484.00,1076.40 C486.00,1076.40 488.17,1076.44 490.00,1076.40 C491.55,1076.36 493.15,1076.86 494.30,1076.20 C495.53,1075.49 496.16,1073.28 497.00,1072.00 C497.71,1070.91 498.46,1070.22 499.00,1069.00 C499.71,1067.41 499.91,1065.26 500.50,1063.10 C501.23,1060.45 502.33,1057.77 503.10,1054.30 C504.18,1049.47 505.05,1042.58 505.80,1036.70 C506.55,1030.84 507.02,1024.98 507.60,1019.10 C508.18,1013.21 508.81,1006.52 509.30,1001.40 C509.68,997.48 509.95,994.84 510.30,991.00 C510.74,986.24 511.07,980.32 511.70,975.00 C512.33,969.66 513.30,964.33 514.10,959.00 C514.90,953.67 515.70,948.33 516.50,943.00 C517.30,937.67 518.17,931.71 518.90,927.00 C519.48,923.28 519.75,919.73 520.50,917.00 C521.05,915.01 521.43,913.12 522.50,912.00 C523.43,911.02 524.97,910.24 526.20,910.30 C527.47,910.36 528.86,911.49 530.00,912.50 C531.29,913.64 532.17,915.08 533.40,917.00 C535.31,919.98 537.77,924.65 539.80,929.00 C542.10,933.92 544.30,940.13 546.30,945.10 C548.02,949.39 549.50,953.10 551.10,957.10 C552.70,961.10 554.30,965.09 555.90,969.10 C557.50,973.12 559.10,977.61 560.70,981.20 C562.03,984.17 563.32,987.00 564.70,989.20 C565.77,990.91 566.82,992.39 568.00,993.50 C568.98,994.42 569.77,994.97 571.10,995.60 C573.09,996.55 576.41,997.47 579.10,998.00 C581.74,998.52 584.66,997.98 587.10,998.80 C589.48,999.60 591.98,1001.31 593.60,1002.80 C594.87,1003.97 595.19,1005.41 596.40,1006.60 C597.86,1008.04 600.07,1009.20 602.00,1010.60 C604.09,1012.12 606.08,1014.45 608.50,1015.40 C610.91,1016.35 614.00,1015.85 616.50,1016.30 C618.77,1016.71 620.83,1017.02 622.90,1017.90 C625.11,1018.84 627.23,1020.36 629.30,1021.90 C631.50,1023.53 633.53,1025.74 635.70,1027.50 C637.80,1029.20 639.90,1030.94 642.10,1032.30 C644.18,1033.58 646.58,1034.25 648.50,1035.50 C650.29,1036.67 651.79,1037.91 653.30,1039.50 C655.01,1041.30 656.64,1043.65 658.10,1045.90 C659.58,1048.18 660.75,1050.70 662.10,1053.10 C663.45,1055.50 664.92,1058.05 666.20,1060.30 C667.33,1062.28 668.26,1064.23 669.40,1065.90 C670.41,1067.39 671.49,1068.68 672.60,1069.90 C673.63,1071.03 674.72,1072.01 675.80,1073.00 C676.85,1073.97 677.78,1075.24 679.00,1075.80 C680.19,1076.35 681.89,1076.32 683.00,1076.40 C683.78,1076.46 684.18,1076.40 685.00,1076.40 C686.29,1076.40 688.33,1076.40 690.00,1076.40" stroke="#ED1E25" stroke-width="7.6" fill="none" stroke-linejoin="bevel" stroke-linecap="butt"/>
<path d="M197.00,1076.40 C198.67,1076.40 199.08,1076.40 202.00,1076.40 C222.74,1076.40 431.54,1076.40 454.00,1076.40 C457.47,1076.40 458.00,1076.40 460.00,1076.40 C462.00,1076.40 464.25,1076.45 466.00,1076.40 C467.35,1076.36 468.69,1076.70 469.60,1076.20 C470.44,1075.74 470.77,1074.54 471.40,1073.70 C472.07,1072.81 472.85,1071.98 473.50,1071.00 C474.19,1069.96 474.79,1069.04 475.40,1067.60 C476.33,1065.37 477.19,1061.98 478.00,1058.70 C478.98,1054.75 479.92,1050.23 480.70,1045.50 C481.59,1040.07 482.25,1033.77 482.90,1027.90 C483.55,1022.04 484.08,1016.18 484.60,1010.30 C485.12,1004.41 485.52,998.49 486.00,992.60 C486.48,986.72 486.79,980.71 487.50,975.00 C488.18,969.53 489.27,964.34 490.10,959.00 C490.93,953.67 491.70,948.33 492.50,943.00 C493.30,937.67 494.07,932.11 494.90,927.00 C495.67,922.28 495.43,916.23 497.30,913.40 C498.55,911.50 500.85,910.10 502.50,910.00 C503.90,909.92 505.27,910.89 506.50,912.00 C508.17,913.51 509.43,916.30 510.90,919.00 C512.76,922.42 514.68,926.99 516.50,931.00 C518.31,934.99 520.01,938.69 521.80,943.00 C523.84,947.93 525.96,953.66 528.00,959.00 C530.03,964.33 532.21,970.60 534.00,975.00 C535.28,978.14 536.04,980.50 537.50,983.00 C538.97,985.50 540.89,987.87 542.80,990.00 C544.64,992.05 546.39,994.40 548.70,995.60 C551.02,996.80 554.19,996.64 556.70,997.20 C558.96,997.71 561.49,997.83 563.10,998.80 C564.41,999.58 564.87,1000.87 566.00,1002.00 C567.41,1003.41 569.17,1004.94 571.00,1006.50 C573.12,1008.31 575.49,1010.61 578.00,1012.20 C580.49,1013.77 583.27,1015.15 586.00,1016.00 C588.61,1016.81 591.39,1016.50 594.00,1017.30 C596.72,1018.13 599.55,1019.51 602.00,1021.00 C604.37,1022.43 606.32,1024.40 608.50,1026.00 C610.62,1027.56 612.76,1029.14 614.90,1030.50 C616.93,1031.79 619.04,1032.60 621.00,1034.00 C623.09,1035.50 625.15,1037.44 627.00,1039.30 C628.80,1041.11 630.43,1042.99 632.00,1045.00 C633.60,1047.05 635.10,1049.24 636.50,1051.50 C637.93,1053.80 639.23,1056.45 640.50,1058.70 C641.62,1060.69 642.60,1062.52 643.70,1064.30 C644.74,1065.98 645.81,1067.60 646.90,1069.10 C647.91,1070.49 648.93,1071.84 650.00,1073.00 C650.97,1074.05 651.83,1075.23 653.00,1075.80 C654.16,1076.36 655.53,1076.29 657.00,1076.40 C658.79,1076.53 661.00,1076.40 663.00,1076.40 C665.00,1076.40 666.52,1076.40 669.00,1076.40 C673.05,1076.40 681.18,1076.40 685.00,1076.40 C687.14,1076.40 688.33,1076.40 690.00,1076.40" stroke="#69BD48" stroke-width="7.6" fill="none" stroke-linejoin="bevel" stroke-linecap="butt"/>
<path d="M197.00,1076.40 C198.67,1076.40 199.10,1076.40 202.00,1076.40 C221.61,1076.40 408.78,1076.40 430.00,1076.40 C433.44,1076.40 434.00,1076.40 436.00,1076.40 C438.00,1076.40 440.22,1076.45 442.00,1076.40 C443.44,1076.36 444.80,1076.67 445.90,1076.20 C446.95,1075.74 447.72,1074.58 448.50,1073.70 C449.25,1072.85 449.93,1071.99 450.50,1071.00 C451.10,1069.96 451.47,1069.02 452.00,1067.60 C452.83,1065.35 453.88,1061.98 454.70,1058.70 C455.68,1054.75 456.54,1050.23 457.30,1045.50 C458.17,1040.07 458.83,1033.77 459.50,1027.90 C460.17,1022.04 460.72,1016.18 461.30,1010.30 C461.88,1004.41 462.48,998.49 463.00,992.60 C463.52,986.73 464.01,980.73 464.40,975.00 C464.77,969.54 464.75,964.32 465.30,959.00 C465.85,953.65 466.90,948.33 467.70,943.00 C468.50,937.67 469.12,932.10 470.10,927.00 C471.01,922.26 471.38,916.24 473.30,913.40 C474.54,911.56 476.53,910.20 478.10,910.00 C479.42,909.83 480.84,910.49 482.00,911.50 C483.66,912.95 484.76,916.16 486.10,919.00 C487.74,922.49 489.18,927.02 490.90,931.00 C492.64,935.02 494.87,939.40 496.50,943.00 C497.82,945.93 498.80,948.34 500.00,951.00 C501.20,953.67 502.55,956.23 503.70,959.00 C504.90,961.89 505.98,965.19 507.00,968.00 C507.90,970.48 508.42,972.64 509.50,975.00 C510.70,977.63 512.50,980.33 514.00,983.00 C515.50,985.67 516.84,988.81 518.50,991.00 C519.89,992.83 521.28,994.35 523.00,995.50 C524.69,996.64 526.71,997.40 528.70,997.90 C530.71,998.41 532.85,998.17 535.00,998.50 C537.28,998.85 539.87,998.96 542.00,1000.00 C544.22,1001.08 546.00,1003.33 548.00,1005.00 C550.00,1006.67 551.96,1008.48 554.00,1010.00 C555.96,1011.46 557.83,1013.08 560.00,1014.00 C562.16,1014.91 564.87,1014.95 567.00,1015.50 C568.82,1015.97 570.45,1016.39 572.00,1017.00 C573.43,1017.57 574.54,1018.14 576.00,1019.00 C577.94,1020.15 580.34,1021.83 582.50,1023.50 C584.84,1025.30 587.20,1027.76 589.50,1029.50 C591.53,1031.04 593.45,1032.25 595.50,1033.50 C597.55,1034.75 599.90,1035.53 601.80,1037.00 C603.75,1038.51 605.35,1040.49 607.00,1042.50 C608.76,1044.64 610.44,1046.96 612.00,1049.50 C613.69,1052.26 615.26,1055.62 616.70,1058.50 C618.00,1061.10 619.07,1063.79 620.30,1066.00 C621.34,1067.87 622.40,1069.52 623.50,1071.00 C624.47,1072.31 625.36,1073.62 626.50,1074.50 C627.55,1075.31 628.76,1075.88 630.00,1076.20 C631.26,1076.52 632.53,1076.36 634.00,1076.40 C635.80,1076.44 638.00,1076.40 640.00,1076.40 C642.00,1076.40 643.13,1076.40 646.00,1076.40 C653.32,1076.40 678.14,1076.40 685.00,1076.40 C687.45,1076.40 688.33,1076.40 690.00,1076.40" stroke="#B952A0" stroke-width="7.6" fill="none" stroke-linejoin="bevel" stroke-linecap="butt"/>
<path d="M197.00,1076.40 C198.67,1076.40 199.11,1076.40 202.00,1076.40 C220.71,1076.40 391.76,1076.40 412.00,1076.40 C415.42,1076.40 416.00,1076.40 418.00,1076.40 C420.00,1076.40 422.43,1076.46 424.00,1076.40 C425.01,1076.36 425.68,1076.53 426.50,1076.20 C427.52,1075.78 428.65,1074.60 429.50,1073.70 C430.29,1072.86 430.91,1071.98 431.50,1071.00 C432.12,1069.96 432.56,1069.03 433.10,1067.60 C433.95,1065.36 434.95,1061.98 435.70,1058.70 C436.60,1054.76 437.21,1050.22 437.90,1045.50 C438.69,1040.06 439.37,1033.77 440.10,1027.90 C440.83,1022.03 441.63,1016.18 442.30,1010.30 C442.97,1004.41 443.58,998.50 444.10,992.60 C444.62,986.73 444.94,980.04 445.40,975.00 C445.75,971.20 446.07,967.90 446.50,965.00 C446.83,962.74 447.22,961.49 447.60,959.00 C448.22,954.96 449.00,948.34 449.60,943.00 C450.20,937.67 450.46,931.82 451.20,927.00 C451.82,922.97 452.33,918.78 453.50,916.00 C454.31,914.07 455.28,912.44 456.50,911.50 C457.51,910.72 458.86,910.17 460.00,910.30 C461.20,910.44 462.39,911.41 463.50,912.50 C465.01,913.99 466.29,916.45 467.70,919.00 C469.55,922.34 471.56,926.98 473.30,931.00 C475.02,934.98 476.69,939.54 478.10,943.00 C479.18,945.65 480.00,947.51 481.00,950.00 C482.13,952.81 483.25,955.86 484.50,959.00 C485.89,962.49 487.62,967.08 489.00,970.00 C489.96,972.02 490.86,973.32 491.70,975.00 C492.53,976.65 493.15,978.30 494.00,980.00 C494.91,981.83 495.92,983.51 497.00,985.60 C498.34,988.19 499.96,992.41 501.40,994.40 C502.28,995.62 503.00,996.28 504.00,997.00 C505.05,997.76 506.49,998.49 507.60,998.80 C508.46,999.04 509.07,998.98 510.00,999.00 C511.29,999.03 512.97,998.60 514.60,998.80 C516.53,999.03 519.44,999.82 520.80,1000.60 C521.62,1001.07 521.79,1001.50 522.50,1002.20 C523.79,1003.46 526.03,1005.81 527.80,1007.60 C529.56,1009.38 531.55,1011.58 533.10,1012.90 C534.17,1013.81 534.93,1014.35 536.00,1015.00 C537.20,1015.73 538.39,1016.57 540.00,1017.00 C542.16,1017.58 545.46,1016.98 548.00,1017.50 C550.45,1018.00 552.82,1018.90 555.00,1020.00 C557.15,1021.08 559.12,1022.62 561.00,1024.00 C562.77,1025.30 564.42,1026.77 566.00,1028.00 C567.40,1029.08 568.62,1029.91 570.00,1031.00 C571.54,1032.22 573.10,1034.08 574.80,1035.00 C576.32,1035.83 578.00,1035.55 579.60,1036.50 C581.73,1037.77 584.06,1040.64 586.00,1042.70 C587.76,1044.57 589.34,1046.31 590.80,1048.30 C592.28,1050.31 593.49,1052.49 594.80,1054.70 C596.16,1057.01 597.45,1059.50 598.80,1061.90 C600.15,1064.30 601.44,1067.00 602.90,1069.10 C604.17,1070.93 605.44,1072.68 606.90,1073.90 C608.17,1074.96 609.59,1075.79 611.00,1076.20 C612.30,1076.57 613.53,1076.36 615.00,1076.40 C616.80,1076.44 619.00,1076.40 621.00,1076.40 C623.00,1076.40 623.97,1076.40 627.00,1076.40 C636.41,1076.40 676.22,1076.40 685.00,1076.40 C687.58,1076.40 688.33,1076.40 690.00,1076.40" stroke="#000000" stroke-width="7.6" fill="none" stroke-linejoin="bevel" stroke-linecap="butt"/>
<path d="M991.30,1076.20V1069.20M991.30,667.00V674.00M1114.50,1076.20V1069.20M1114.50,667.00V674.00M1237.70,1076.20V1069.20M1237.70,667.00V674.00M1360.90,1076.20V1069.20M1360.90,667.00V674.00M1484.10,1076.20V1069.20M1484.10,667.00V674.00M991.30,1076.20H998.30M1484.10,1076.20H1477.10M991.30,973.90H998.30M1484.10,973.90H1477.10M991.30,871.60H998.30M1484.10,871.60H1477.10M991.30,769.30H998.30M1484.10,769.30H1477.10M991.30,667.00H998.30M1484.10,667.00H1477.10" stroke="#222222" stroke-width="3.6" fill="none"/>
<rect x="991.3" y="667.0" width="492.80" height="409.20" stroke="#222222" stroke-width="3.6" fill="none"/>
<text transform="translate(943.05,1097.40) scale(1.0,1.03)" font-family='"Liberation Sans", sans-serif' font-size="58.5" fill="#222222" >0</text>
<text transform="translate(894.92,995.10) scale(1.0,1.03)" font-family='"Liberation Sans", sans-serif' font-size="58.5" fill="#222222" >0.2</text>
<text transform="translate(893.69,892.80) scale(1.0,1.03)" font-family='"Liberation Sans", sans-serif' font-size="58.5" fill="#222222" >0.4</text>
<text transform="translate(894.55,790.50) scale(1.0,1.03)" font-family='"Liberation Sans", sans-serif' font-size="58.5" fill="#222222" >0.6</text>
<text transform="translate(894.52,688.20) scale(1.0,1.03)" font-family='"Liberation Sans", sans-serif' font-size="58.5" fill="#222222" >0.8</text>
<text transform="translate(964.69,1145.60) scale(1.0,1.03)" font-family='"Liberation Sans", sans-serif' font-size="58.5" fill="#222222" >-</text>
<path transform="translate(984.18,1145.60) scale(0.05850,-0.06026)" d="M296 0L380 0L380 685L340 685C290 660 190 582 125 522L125 442C190 466 250 500 296 542Z" fill="#222222"/>
<text transform="translate(1064.18,1145.60) scale(1.0,1.03)" font-family='"Liberation Sans", sans-serif' font-size="58.5" fill="#222222" >-0.5</text>
<text transform="translate(1220.83,1145.60) scale(1.0,1.03)" font-family='"Liberation Sans", sans-serif' font-size="58.5" fill="#222222" >0</text>
<text transform="translate(1320.57,1145.60) scale(1.0,1.03)" font-family='"Liberation Sans", sans-serif' font-size="58.5" fill="#222222" >0.5</text>
<path transform="translate(1466.88,1145.60) scale(0.05850,-0.06026)" d="M296 0L380 0L380 685L340 685C290 660 190 582 125 522L125 442C190 466 250 500 296 542Z" fill="#222222"/>
<text transform="translate(1146.47,1232.30) scale(1.0,1.04)" font-family='"Liberation Sans", sans-serif' font-size="64.7" fill="#222222" >E (eV)</text>
<text transform="translate(846.00,931.87) rotate(-90) scale(1,0.972)" font-family='"Liberation Serif", serif' font-size="68.5" fill="#222222">Γ</text>
<text transform="translate(846.00,892.31) rotate(-90) scale(1,1.04)" font-family='"Liberation Sans", sans-serif' font-size="64.7" fill="#222222">(E)</text>
<path d="M991.30,1076.20 C992.97,1076.20 993.33,1076.20 996.30,1076.20 C1020.40,1076.20 1299.87,1076.20 1326.00,1076.20 C1329.52,1076.20 1330.00,1076.07 1332.00,1076.20 C1334.00,1076.33 1336.00,1076.87 1338.00,1077.00 C1340.00,1077.13 1342.17,1077.00 1344.00,1077.00 C1345.55,1077.00 1346.57,1077.03 1348.30,1077.00 C1350.94,1076.95 1355.14,1076.86 1358.30,1076.60 C1361.17,1076.37 1363.74,1076.10 1366.50,1075.60 C1369.37,1075.08 1372.87,1074.72 1375.20,1073.50 C1377.13,1072.49 1378.39,1070.97 1379.80,1069.40 C1381.31,1067.73 1382.57,1065.68 1383.90,1063.70 C1385.28,1061.65 1386.58,1059.48 1387.90,1057.30 C1389.25,1055.05 1390.55,1052.70 1391.90,1050.40 C1393.25,1048.10 1394.65,1045.81 1396.00,1043.50 C1397.35,1041.18 1398.64,1038.76 1400.00,1036.50 C1401.31,1034.33 1402.66,1032.31 1404.00,1030.20 C1405.36,1028.07 1406.71,1025.56 1408.10,1023.80 C1409.22,1022.39 1410.31,1021.05 1411.50,1020.30 C1412.46,1019.70 1413.50,1019.46 1414.50,1019.30 C1415.44,1019.15 1416.28,1019.16 1417.30,1019.30 C1418.57,1019.48 1420.16,1020.16 1421.50,1020.50 C1422.72,1020.81 1423.70,1021.13 1425.00,1021.30 C1426.58,1021.51 1428.55,1021.18 1430.30,1021.50 C1432.12,1021.83 1434.14,1022.12 1435.70,1023.30 C1437.57,1024.71 1438.80,1027.64 1440.30,1030.00 C1441.90,1032.52 1443.51,1035.38 1445.00,1038.00 C1446.41,1040.48 1447.67,1042.86 1449.00,1045.30 C1450.34,1047.76 1451.64,1050.32 1453.00,1052.70 C1454.31,1054.98 1455.54,1057.19 1457.00,1059.30 C1458.45,1061.39 1460.06,1063.57 1461.70,1065.30 C1463.17,1066.85 1464.87,1068.11 1466.30,1069.30 C1467.51,1070.30 1468.57,1071.12 1469.70,1072.00 C1470.80,1072.86 1471.80,1073.81 1473.00,1074.50 C1474.23,1075.21 1475.86,1075.97 1477.00,1076.20 C1477.79,1076.36 1478.25,1076.20 1479.10,1076.20 C1480.41,1076.20 1482.43,1076.20 1484.10,1076.20" stroke="#ED1E25" stroke-width="7.6" fill="none" stroke-linejoin="bevel" stroke-linecap="butt"/>
<path d="M991.30,1076.20 C992.97,1076.20 993.34,1076.20 996.30,1076.20 C1019.58,1076.20 1280.77,1076.20 1306.00,1076.20 C1309.51,1076.20 1310.00,1076.10 1312.00,1076.20 C1314.00,1076.30 1316.00,1076.67 1318.00,1076.80 C1320.00,1076.93 1322.17,1076.97 1324.00,1077.00 C1325.55,1077.03 1326.57,1077.05 1328.30,1077.00 C1330.94,1076.92 1334.99,1076.89 1338.30,1076.40 C1341.66,1075.90 1345.65,1075.05 1348.30,1074.00 C1350.23,1073.23 1351.69,1072.56 1353.00,1071.30 C1354.40,1069.95 1355.24,1067.92 1356.30,1066.00 C1357.48,1063.86 1358.54,1061.41 1359.70,1059.00 C1360.94,1056.42 1362.20,1053.66 1363.50,1051.00 C1364.80,1048.33 1366.11,1045.57 1367.50,1043.00 C1368.84,1040.51 1370.19,1038.10 1371.70,1035.80 C1373.19,1033.54 1374.85,1031.40 1376.50,1029.30 C1378.12,1027.24 1379.72,1025.03 1381.50,1023.30 C1383.14,1021.71 1384.97,1020.13 1386.70,1019.20 C1388.13,1018.43 1389.60,1017.77 1391.00,1017.80 C1392.36,1017.83 1393.75,1018.74 1395.00,1019.30 C1396.17,1019.82 1397.18,1020.47 1398.30,1021.00 C1399.42,1021.53 1400.53,1022.17 1401.70,1022.50 C1402.84,1022.83 1404.03,1022.68 1405.20,1023.00 C1406.46,1023.35 1407.70,1023.84 1409.00,1024.60 C1410.61,1025.55 1412.51,1027.00 1414.00,1028.50 C1415.52,1030.03 1416.71,1031.85 1418.00,1033.70 C1419.38,1035.67 1420.83,1037.82 1422.00,1040.00 C1423.16,1042.16 1423.97,1044.48 1425.00,1046.70 C1426.03,1048.92 1427.06,1051.11 1428.20,1053.30 C1429.36,1055.54 1430.51,1057.96 1431.90,1060.00 C1433.22,1061.94 1434.74,1063.72 1436.30,1065.30 C1437.78,1066.80 1439.54,1068.20 1441.00,1069.30 C1442.17,1070.18 1443.19,1070.68 1444.30,1071.50 C1445.52,1072.40 1446.68,1073.71 1448.00,1074.50 C1449.26,1075.26 1450.50,1075.89 1452.00,1076.20 C1453.77,1076.56 1456.00,1076.20 1458.00,1076.20 C1460.00,1076.20 1461.55,1076.20 1464.00,1076.20 C1467.89,1076.20 1475.42,1076.20 1479.10,1076.20 C1481.22,1076.20 1482.43,1076.20 1484.10,1076.20" stroke="#69BD48" stroke-width="7.6" fill="none" stroke-linejoin="bevel" stroke-linecap="butt"/>
<path d="M991.30,1076.20 C992.97,1076.20 993.35,1076.20 996.30,1076.20 C1018.81,1076.20 1263.61,1076.20 1288.00,1076.20 C1291.50,1076.20 1292.00,1076.18 1294.00,1076.20 C1296.00,1076.22 1298.00,1076.25 1300.00,1076.30 C1302.00,1076.35 1304.03,1076.47 1306.00,1076.50 C1307.92,1076.53 1309.74,1076.68 1311.70,1076.50 C1313.83,1076.31 1316.09,1075.71 1318.30,1075.30 C1320.53,1074.88 1322.99,1074.61 1325.00,1074.00 C1326.74,1073.47 1328.32,1073.08 1329.70,1072.00 C1331.27,1070.77 1332.44,1068.67 1333.70,1066.70 C1335.12,1064.49 1336.39,1061.83 1337.70,1059.30 C1339.05,1056.70 1340.39,1054.02 1341.70,1051.30 C1343.05,1048.49 1344.26,1045.48 1345.70,1042.70 C1347.13,1039.95 1348.91,1037.27 1350.30,1034.70 C1351.55,1032.38 1352.48,1030.21 1353.70,1028.00 C1354.94,1025.75 1356.18,1022.99 1357.70,1021.30 C1358.92,1019.95 1360.29,1018.87 1361.70,1018.30 C1362.97,1017.79 1364.33,1017.71 1365.70,1017.80 C1367.19,1017.90 1368.79,1018.44 1370.30,1019.00 C1371.89,1019.59 1373.44,1020.59 1375.00,1021.30 C1376.51,1021.99 1377.90,1022.69 1379.50,1023.20 C1381.22,1023.74 1383.35,1023.56 1385.00,1024.40 C1386.73,1025.28 1388.25,1026.98 1389.60,1028.50 C1390.95,1030.01 1391.96,1031.79 1393.10,1033.50 C1394.26,1035.25 1395.33,1036.98 1396.50,1038.90 C1397.82,1041.05 1399.25,1043.50 1400.60,1045.80 C1401.95,1048.10 1403.23,1050.47 1404.60,1052.70 C1405.93,1054.87 1407.33,1056.95 1408.70,1059.00 C1410.03,1060.98 1411.29,1063.09 1412.70,1064.80 C1413.97,1066.35 1415.36,1067.73 1416.70,1068.90 C1417.87,1069.92 1419.02,1070.59 1420.20,1071.50 C1421.45,1072.46 1422.66,1073.71 1424.00,1074.50 C1425.27,1075.25 1426.50,1075.89 1428.00,1076.20 C1429.77,1076.56 1432.00,1076.20 1434.00,1076.20 C1436.00,1076.20 1437.13,1076.20 1440.00,1076.20 C1447.34,1076.20 1472.23,1076.20 1479.10,1076.20 C1481.56,1076.20 1482.43,1076.20 1484.10,1076.20" stroke="#B952A0" stroke-width="7.6" fill="none" stroke-linejoin="bevel" stroke-linecap="butt"/>
<path d="M991.30,1076.20 C992.97,1076.20 993.35,1076.20 996.30,1076.20 C1018.64,1076.20 1259.80,1076.20 1284.00,1076.20 C1287.50,1076.20 1288.00,1076.22 1290.00,1076.20 C1292.00,1076.18 1294.20,1076.18 1296.00,1076.10 C1297.47,1076.03 1298.61,1076.06 1300.00,1075.80 C1301.59,1075.51 1303.33,1074.91 1305.00,1074.30 C1306.76,1073.66 1308.72,1073.22 1310.30,1072.00 C1312.11,1070.60 1313.58,1068.16 1315.00,1066.00 C1316.49,1063.74 1317.69,1061.20 1319.00,1058.70 C1320.36,1056.11 1321.69,1053.43 1323.00,1050.70 C1324.36,1047.87 1325.59,1044.68 1327.00,1042.00 C1328.27,1039.58 1329.64,1037.46 1331.00,1035.30 C1332.31,1033.23 1333.64,1031.22 1335.00,1029.30 C1336.31,1027.46 1337.57,1025.49 1339.00,1024.00 C1340.26,1022.68 1341.53,1021.49 1343.00,1020.70 C1344.43,1019.94 1346.14,1019.30 1347.70,1019.30 C1349.24,1019.30 1350.86,1020.03 1352.30,1020.70 C1353.73,1021.37 1354.92,1022.66 1356.30,1023.30 C1357.59,1023.90 1358.98,1024.29 1360.30,1024.50 C1361.54,1024.70 1362.68,1024.33 1364.00,1024.60 C1365.66,1024.93 1367.85,1025.55 1369.40,1026.70 C1371.05,1027.92 1372.15,1029.96 1373.50,1031.90 C1375.06,1034.13 1376.66,1036.88 1378.10,1039.40 C1379.52,1041.88 1380.73,1044.46 1382.10,1046.90 C1383.43,1049.29 1384.73,1051.66 1386.20,1053.90 C1387.64,1056.09 1389.25,1058.16 1390.80,1060.20 C1392.31,1062.19 1393.84,1064.14 1395.40,1066.00 C1396.91,1067.80 1398.47,1069.70 1400.00,1071.20 C1401.33,1072.51 1402.59,1073.79 1404.00,1074.60 C1405.27,1075.33 1406.65,1075.74 1408.00,1076.00 C1409.32,1076.26 1410.53,1076.16 1412.00,1076.20 C1413.80,1076.24 1416.00,1076.20 1418.00,1076.20 C1420.00,1076.20 1420.99,1076.20 1424.00,1076.20 C1433.11,1076.20 1470.60,1076.20 1479.10,1076.20 C1481.66,1076.20 1482.43,1076.20 1484.10,1076.20" stroke="#000000" stroke-width="7.6" fill="none" stroke-linejoin="bevel" stroke-linecap="butt"/>
<text transform="translate(220.07,90.50) scale(1.0,1.03)" font-family='"Liberation Sans", sans-serif' font-size="58.5" fill="#000" >(a)</text>
<text transform="translate(622.61,104.00) scale(1.0,1.03)" font-family='"Liberation Sans", sans-serif' font-size="58.5" fill="#3552A6" >0</text>
<circle cx="664.0" cy="50.6" r="6.1" stroke="#2E3F94" stroke-width="1.6" fill="none"/>
<path d="M403.20,95.10H565.30" stroke="#000" stroke-width="5.2" fill="none"/>
<path d="M382.40,95.10L411.60,80.70L403.20,95.10L411.60,109.50Z" fill="#000"/>
<text transform="translate(352.12,139.60) scale(1.0,1.03)" font-family='"Liberation Sans", sans-serif' font-size="58.5" fill="#000" >n</text>
<text transform="translate(384.84,167.90) scale(1.0,1.03)" font-family='"Liberation Sans", sans-serif' font-size="46.5" fill="#000" >C</text>
<text transform="translate(1023.37,88.80) scale(1.0,1.03)" font-family='"Liberation Sans", sans-serif' font-size="58.5" fill="#000" >(b)</text>
<text transform="translate(1105.63,95.10) scale(1.0,1.03)" font-family='"Liberation Sans", sans-serif' font-size="58.5" fill="#3552A6" >Class-I</text>
<text transform="translate(1422.86,99.60) scale(1.0,1.03)" font-family='"Liberation Sans", sans-serif' font-size="58.5" fill="#3552A6" >4</text>
<circle cx="1465.2" cy="46.1" r="6.1" stroke="#2E3F94" stroke-width="1.6" fill="none"/>
<path d="M1212.00,213.60H1373.60" stroke="#000" stroke-width="5.2" fill="none"/>
<path d="M1191.20,213.60L1220.40,199.20L1212.00,213.60L1220.40,228.00Z" fill="#000"/>
<text transform="translate(1121.42,235.90) scale(1.0,1.03)" font-family='"Liberation Sans", sans-serif' font-size="58.5" fill="#000" >n</text>
<text transform="translate(1154.34,263.70) scale(1.0,1.03)" font-family='"Liberation Sans", sans-serif' font-size="46.5" fill="#000" >C</text>
<text transform="translate(221.97,732.20) scale(1.0,1.03)" font-family='"Liberation Sans", sans-serif' font-size="58.5" fill="#000" >(c)</text>
<text transform="translate(300.63,740.00) scale(1.0,1.03)" font-family='"Liberation Sans", sans-serif' font-size="58.5" fill="#3552A6" >Class-II</text>
<text transform="translate(617.36,745.70) scale(1.0,1.03)" font-family='"Liberation Sans", sans-serif' font-size="58.5" fill="#3552A6" >4</text>
<circle cx="659.8" cy="692.4" r="6.1" stroke="#2E3F94" stroke-width="1.6" fill="none"/>
<path d="M418.00,938.30H580.00" stroke="#000" stroke-width="5.2" fill="none"/>
<path d="M397.20,938.30L426.40,923.90L418.00,938.30L426.40,952.70Z" fill="#000"/>
<text transform="translate(350.82,880.60) scale(1.0,1.03)" font-family='"Liberation Sans", sans-serif' font-size="58.5" fill="#000" >n</text>
<text transform="translate(383.54,909.20) scale(1.0,1.03)" font-family='"Liberation Sans", sans-serif' font-size="46.5" fill="#000" >C</text>
<text transform="translate(1017.67,728.50) scale(1.0,1.03)" font-family='"Liberation Sans", sans-serif' font-size="58.5" fill="#000" >(d)</text>
<text transform="translate(1105.43,732.30) scale(1.0,1.03)" font-family='"Liberation Sans", sans-serif' font-size="58.5" fill="#3552A6" >Class-II</text>
<path transform="translate(1391.89,741.10) scale(0.05850,-0.06026)" d="M296 0L380 0L380 685L340 685C290 660 190 582 125 522L125 442C190 466 250 500 296 542Z" fill="#3552A6"/>
<text transform="translate(1424.41,741.10) scale(1.0,1.03)" font-family='"Liberation Sans", sans-serif' font-size="58.5" fill="#3552A6" >4</text>
<circle cx="1467.1" cy="688.0" r="6.1" stroke="#2E3F94" stroke-width="1.6" fill="none"/>
<path d="M1309.10,1010.70H1471.00" stroke="#000" stroke-width="5.2" fill="none"/>
<path d="M1288.30,1010.70L1317.50,996.30L1309.10,1010.70L1317.50,1025.10Z" fill="#000"/>
<text transform="translate(1223.22,1037.20) scale(1.0,1.03)" font-family='"Liberation Sans", sans-serif' font-size="58.5" fill="#000" >n</text>
<text transform="translate(1255.34,1065.50) scale(1.0,1.03)" font-family='"Liberation Sans", sans-serif' font-size="46.5" fill="#000" >C</text>
<path d="M1015,776.6H1073.8" stroke="#ED1E25" stroke-width="7.5" fill="none"/>
<path transform="translate(1078.10,798.60) scale(0.04400,-0.04532)" d="M296 0L380 0L380 685L340 685C290 660 190 582 125 522L125 442C190 466 250 500 296 542Z" fill="#000"/>
<path d="M1121.75,778.25L1140.75,797.25M1140.75,778.25L1121.75,797.25" stroke="#000" stroke-width="1.9" stroke-linecap="round" fill="none"/>
<path transform="translate(1158.04,798.60) scale(0.04400,-0.04532)" d="M296 0L380 0L380 685L340 685C290 660 190 582 125 522L125 442C190 466 250 500 296 542Z" fill="#000"/>
<text transform="translate(1182.51,798.60) scale(1.0,1.03)" font-family='"Liberation Sans", sans-serif' font-size="44.0" fill="#000" >0</text>
<path transform="translate(1206.50,777.00) scale(0.03200,-0.03296)" d="M296 0L380 0L380 685L340 685C290 660 190 582 125 522L125 442C190 466 250 500 296 542Z" fill="#000"/>
<text transform="translate(1224.29,777.00) scale(1.0,1.03)" font-family='"Liberation Sans", sans-serif' font-size="32.0" fill="#000" >2</text>
<text transform="translate(1255.43,798.60) scale(1.0,1.03)" font-family='"Liberation Sans", sans-serif' font-size="44.0" fill="#000" >cm</text>
<text transform="translate(1311.58,777.00) scale(1.0,1.03)" font-family='"Liberation Sans", sans-serif' font-size="32.0" fill="#000" >-2</text>
<path d="M1015,838.5H1073.8" stroke="#69BD48" stroke-width="7.5" fill="none"/>
<text transform="translate(1078.10,860.50) scale(1.0,1.03)" font-family='"Liberation Sans", sans-serif' font-size="44.0" fill="#000" >3</text>
<path d="M1121.75,840.15L1140.75,859.15M1140.75,840.15L1121.75,859.15" stroke="#000" stroke-width="1.9" stroke-linecap="round" fill="none"/>
<path transform="translate(1158.04,860.50) scale(0.04400,-0.04532)" d="M296 0L380 0L380 685L340 685C290 660 190 582 125 522L125 442C190 466 250 500 296 542Z" fill="#000"/>
<text transform="translate(1182.51,860.50) scale(1.0,1.03)" font-family='"Liberation Sans", sans-serif' font-size="44.0" fill="#000" >0</text>
<path transform="translate(1206.50,838.90) scale(0.03200,-0.03296)" d="M296 0L380 0L380 685L340 685C290 660 190 582 125 522L125 442C190 466 250 500 296 542Z" fill="#000"/>
<text transform="translate(1224.29,838.90) scale(1.0,1.03)" font-family='"Liberation Sans", sans-serif' font-size="32.0" fill="#000" >2</text>
<text transform="translate(1255.43,860.50) scale(1.0,1.03)" font-family='"Liberation Sans", sans-serif' font-size="44.0" fill="#000" >cm</text>
<text transform="translate(1311.58,838.90) scale(1.0,1.03)" font-family='"Liberation Sans", sans-serif' font-size="32.0" fill="#000" >-2</text>
<path d="M1015,900.3H1073.8" stroke="#B952A0" stroke-width="7.5" fill="none"/>
<text transform="translate(1078.10,922.30) scale(1.0,1.03)" font-family='"Liberation Sans", sans-serif' font-size="44.0" fill="#000" >6</text>
<path d="M1121.75,901.95L1140.75,920.95M1140.75,901.95L1121.75,920.95" stroke="#000" stroke-width="1.9" stroke-linecap="round" fill="none"/>
<path transform="translate(1158.04,922.30) scale(0.04400,-0.04532)" d="M296 0L380 0L380 685L340 685C290 660 190 582 125 522L125 442C190 466 250 500 296 542Z" fill="#000"/>
<text transform="translate(1182.51,922.30) scale(1.0,1.03)" font-family='"Liberation Sans", sans-serif' font-size="44.0" fill="#000" >0</text>
<path transform="translate(1206.50,900.70) scale(0.03200,-0.03296)" d="M296 0L380 0L380 685L340 685C290 660 190 582 125 522L125 442C190 466 250 500 296 542Z" fill="#000"/>
<text transform="translate(1224.29,900.70) scale(1.0,1.03)" font-family='"Liberation Sans", sans-serif' font-size="32.0" fill="#000" >2</text>
<text transform="translate(1255.43,922.30) scale(1.0,1.03)" font-family='"Liberation Sans", sans-serif' font-size="44.0" fill="#000" >cm</text>
<text transform="translate(1311.58,900.70) scale(1.0,1.03)" font-family='"Liberation Sans", sans-serif' font-size="32.0" fill="#000" >-2</text>
<path d="M1015,962.4H1073.8" stroke="#000000" stroke-width="7.5" fill="none"/>
<text transform="translate(1078.10,984.40) scale(1.0,1.03)" font-family='"Liberation Sans", sans-serif' font-size="44.0" fill="#000" >9</text>
<path d="M1121.75,964.05L1140.75,983.05M1140.75,964.05L1121.75,983.05" stroke="#000" stroke-width="1.9" stroke-linecap="round" fill="none"/>
<path transform="translate(1158.04,984.40) scale(0.04400,-0.04532)" d="M296 0L380 0L380 685L340 685C290 660 190 582 125 522L125 442C190 466 250 500 296 542Z" fill="#000"/>
<text transform="translate(1182.51,984.40) scale(1.0,1.03)" font-family='"Liberation Sans", sans-serif' font-size="44.0" fill="#000" >0</text>
<path transform="translate(1206.50,962.80) scale(0.03200,-0.03296)" d="M296 0L380 0L380 685L340 685C290 660 190 582 125 522L125 442C190 466 250 500 296 542Z" fill="#000"/>
<text transform="translate(1224.29,962.80) scale(1.0,1.03)" font-family='"Liberation Sans", sans-serif' font-size="32.0" fill="#000" >2</text>
<text transform="translate(1255.43,984.40) scale(1.0,1.03)" font-family='"Liberation Sans", sans-serif' font-size="44.0" fill="#000" >cm</text>
<text transform="translate(1311.58,962.80) scale(1.0,1.03)" font-family='"Liberation Sans", sans-serif' font-size="32.0" fill="#000" >-2</text>
</svg></body></html>
